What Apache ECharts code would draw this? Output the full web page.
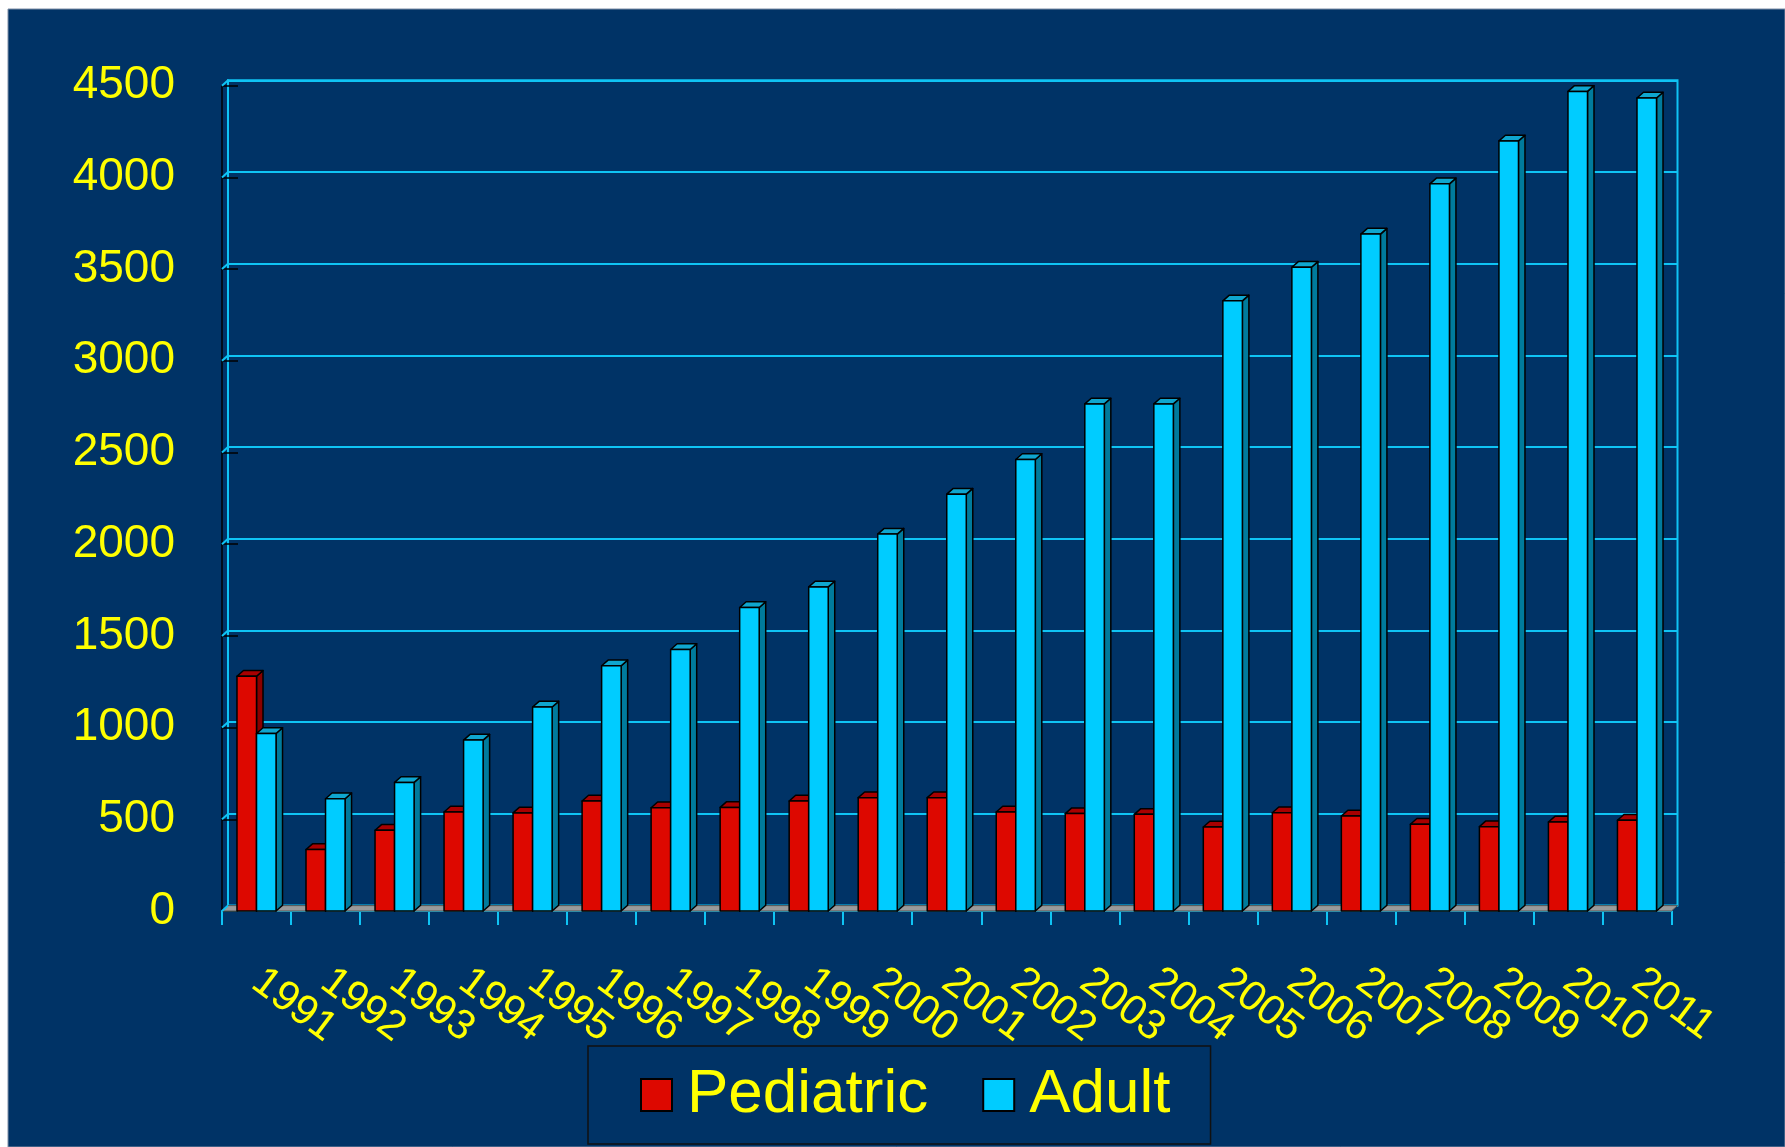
<!DOCTYPE html>
<html>
<head>
<meta charset="utf-8">
<script src="https://cdn.jsdelivr.net/npm/echarts@6/dist/echarts.min.js"></script>
<style>
  html, body { margin: 0; padding: 0; background: #ffffff; }
  #chart { width: 1785px; height: 1147px; }
</style>
</head>
<body>
<div id="chart"></div>
<script>
// Yearly counts, 1991-2011
const years = ['1991','1992','1993','1994','1995','1996','1997','1998','1999','2000',
               '2001','2002','2003','2004','2005','2006','2007','2008','2009','2010','2011'];
const pediatric = [1280, 335, 440, 540, 535, 600, 563, 565, 600, 618,
                   618, 540, 531, 527, 458, 536, 518, 473, 460, 485, 495];
const adult = [968, 612, 701, 932, 1112, 1337, 1426, 1655, 1767, 2055,
               2273, 2462, 2765, 2765, 3327, 3510, 3691, 3965, 4199, 4469, 4433];
const yTicks = { min: 0, max: 4500, step: 500 };

// Layout: front plane and back wall are offset to give the pseudo-3D look
const FRONT = { left: 222, top: 85.7, width: 1449.5, height: 825.3 };
const DEPTH = { dx: 6, dy: 5.4 };
const BACK = { left: FRONT.left + DEPTH.dx, top: FRONT.top - DEPTH.dy, width: FRONT.width, height: FRONT.height };
const GRID_CYAN = '#0fc4f4';
const YELLOW = '#ffff00';
const NAVY = '#003366';
const FONT = "'Liberation Sans', Arial, sans-serif";

const faces = [
  { front: '#dd0800', top: '#a80000', side: '#8a0000' },
  { front: '#00ccff', top: '#0fa6cf', side: '#007b9c' }
];

function boxRenderer(seriesIdx) {
  return function (params, api) {
    const cat = api.value(0);
    const val = api.value(1);
    const pTop = api.coord([cat, val]);
    const pBase = api.coord([cat, 0]);
    const band = api.size([1, 0])[0];
    const w = band * 0.283;
    const x0 = seriesIdx === 0 ? pTop[0] - w : pTop[0];
    const x1 = x0 + w;
    const yT = pTop[1], yB = pBase[1];
    const dx = DEPTH.dx + 0.5, dy = DEPTH.dy + 0.3;
    const f = faces[seriesIdx];
    const stroke = { stroke: '#000000', lineWidth: 1.5, lineJoin: 'round' };
    return {
      type: 'group',
      children: [
        { type: 'polygon', shape: { points: [[x1, yT], [x1 + dx, yT - dy], [x1 + dx, yB - dy], [x1, yB]] },
          style: Object.assign({ fill: f.side }, stroke) },
        { type: 'polygon', shape: { points: [[x0, yT], [x1, yT], [x1 + dx, yT - dy], [x0 + dx, yT - dy]] },
          style: Object.assign({ fill: f.top }, stroke) },
        { type: 'rect', shape: { x: x0, y: yT, width: w, height: yB - yT },
          style: Object.assign({ fill: f.front }, stroke) }
      ]
    };
  };
}

const chart = echarts.init(document.getElementById('chart'), null, { renderer: 'canvas' });

const option = {
  backgroundColor: '#ffffff',
  animation: false,
  graphic: [
    { type: 'rect', z: -10, shape: { x: 8, y: 9, width: 1777, height: 1138 },
      style: { fill: NAVY, stroke: '#7f8fa6', lineWidth: 1 } },
    // floor of the plot area
    { type: 'polygon', z: 1,
      shape: { points: [
        [FRONT.left, FRONT.top + FRONT.height],
        [FRONT.left + FRONT.width, FRONT.top + FRONT.height],
        [BACK.left + BACK.width, BACK.top + BACK.height],
        [BACK.left, BACK.top + BACK.height]
      ] },
      style: { fill: '#9a9a9a', stroke: '#555555', lineWidth: 1 } }
  ],
  grid: [
    { left: FRONT.left, top: FRONT.top, width: FRONT.width, height: FRONT.height, containLabel: false },
    { left: BACK.left, top: BACK.top, width: BACK.width, height: BACK.height, containLabel: false,
      show: true, borderColor: GRID_CYAN, borderWidth: 2, backgroundColor: 'transparent' }
  ],
  legend: {
    data: ['Pediatric', 'Adult'],
    left: 588, top: 1046,
    orient: 'horizontal',
    icon: 'rect',
    itemWidth: 31, itemHeight: 32,
    itemGap: 54,
    padding: [18, 40, 18, 52],
    borderColor: '#111111', borderWidth: 1.5,
    backgroundColor: NAVY,
    itemStyle: { borderColor: '#000000', borderWidth: 2 },
    textStyle: { color: YELLOW, fontSize: 62, fontFamily: FONT, lineHeight: 62, padding: [0, 0, 0, 10] }
  },
  xAxis: [
    { type: 'category', gridIndex: 0, data: years, boundaryGap: true,
      axisLine: { show: true, lineStyle: { color: GRID_CYAN, width: 2 } },
      axisTick: { show: true, length: 14, lineStyle: { color: GRID_CYAN, width: 2 } },
      axisLabel: { color: YELLOW, fontSize: 42, fontFamily: FONT, rotate: -37, margin: 66, interval: 0 },
      splitLine: { show: false } },
    { type: 'category', gridIndex: 1, data: years, show: false }
  ],
  yAxis: [
    { type: 'value', gridIndex: 0, min: yTicks.min, max: yTicks.max, interval: yTicks.step,
      axisLine: { show: true, lineStyle: { color: '#000000', width: 1.5 } },
      axisTick: { show: true, inside: true, length: 16, lineStyle: { color: '#000000', width: 1.5 } },
      axisLabel: { color: YELLOW, fontSize: 46, fontFamily: FONT, margin: 47,
                   formatter: v => String(v) },
      splitLine: { show: false } },
    { type: 'value', gridIndex: 1, min: yTicks.min, max: yTicks.max, interval: yTicks.step,
      axisLine: { show: true, lineStyle: { color: GRID_CYAN, width: 2 } },
      axisTick: { show: false },
      axisLabel: { show: false },
      splitLine: { show: true, lineStyle: { color: GRID_CYAN, width: 2 } } }
  ],
  series: [
    { name: 'Pediatric', type: 'custom', xAxisIndex: 0, yAxisIndex: 0, z: 3,
      itemStyle: { color: faces[0].front, borderColor: '#000000' },
      renderItem: boxRenderer(0),
      encode: { x: 0, y: 1 },
      data: pediatric.map((v, i) => [i, v]) },
    { name: 'Adult', type: 'custom', xAxisIndex: 0, yAxisIndex: 0, z: 4,
      itemStyle: { color: faces[1].front, borderColor: '#000000' },
      renderItem: boxRenderer(1),
      encode: { x: 0, y: 1 },
      data: adult.map((v, i) => [i, v]) }
  ]
};

chart.setOption(option);

// Side-wall connectors between the front axis ticks and the back-wall gridlines
const connectors = [];
for (let v = yTicks.min; v <= yTicks.max; v += yTicks.step) {
  const yf = chart.convertToPixel({ yAxisIndex: 0 }, v);
  const yb = chart.convertToPixel({ yAxisIndex: 1 }, v);
  connectors.push({ type: 'line', z: 1,
    shape: { x1: FRONT.left, y1: yf, x2: BACK.left, y2: yb },
    style: { stroke: GRID_CYAN, lineWidth: 2 } });
}
chart.setOption({ graphic: option.graphic.concat(connectors) });
</script>
</body>
</html>
